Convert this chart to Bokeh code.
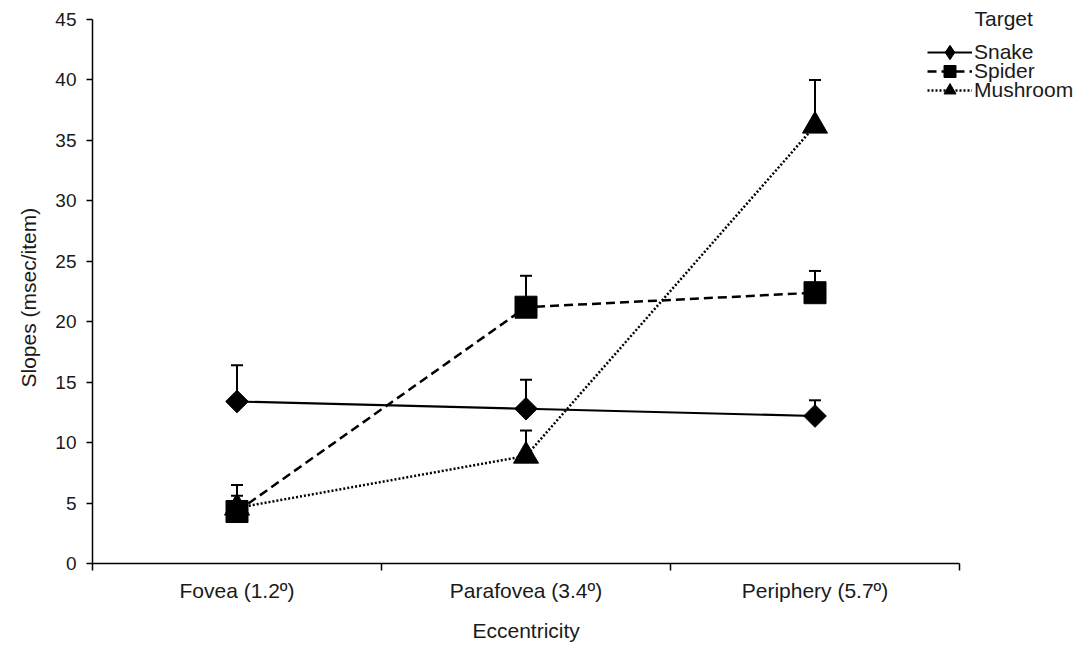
import math
from bokeh.plotting import figure
from bokeh.models import (Range1d, FixedTicker, Whisker, TeeHead, ColumnDataSource,
                          Legend, LegendItem, Label, Title)
from bokeh.embed import file_html
from bokeh.resources import INLINE

categories = ["Fovea (1.2º)", "Parafovea (3.4º)", "Periphery (5.7º)"]
snake = [13.4, 12.8, 12.2]
snake_err = [16.4, 15.2, 13.5]
spider = [4.3, 21.2, 22.4]
spider_err = [6.5, 23.8, 24.2]
mushroom = [4.6, 8.9, 36.2]
mushroom_err = [5.6, 11.0, 40.0]
y_ticks = [0, 5, 10, 15, 20, 25, 30, 35, 40, 45]
y_max = 45

FONT = "Liberation Sans"
TXT = "#1a1a1a"
n = len(categories)
xs = [i + 0.5 for i in range(n)]

W, H = 1077, 651
FRAME_L, AXIS_R = 92, 959          # x pixel of axis start / end
AXIS_TOP, FRAME_B = 19, 563        # y pixel of y_max / zero
x_end = n * (W - FRAME_L) / (AXIS_R - FRAME_L)
y_end = y_max * FRAME_B / (FRAME_B - AXIS_TOP)

p = figure(frame_width=W - FRAME_L, frame_height=FRAME_B, output_backend="svg",
           toolbar_location=None,
           x_range=Range1d(0, x_end), y_range=Range1d(0, y_end),
           min_border_left=FRAME_L, min_border_right=0, min_border_top=0,
           min_border_bottom=H - FRAME_B)
p.outline_line_color = None
p.xgrid.grid_line_color = None
p.ygrid.grid_line_color = None

# axes
p.xaxis.bounds = (0, n)
p.xaxis.ticker = FixedTicker(ticks=xs, minor_ticks=list(range(n + 1)))
p.xaxis.major_label_overrides = {x: c for x, c in zip(xs, categories)}
p.xaxis.major_tick_line_color = None
p.xaxis.minor_tick_out = 7
p.xaxis.minor_tick_in = 0
p.xaxis.minor_tick_line_width = 1.5
p.xaxis.major_label_standoff = 8
p.xaxis.major_label_text_font_size = "21px"
p.yaxis.bounds = (0, y_max)
p.yaxis.ticker = FixedTicker(ticks=y_ticks)
p.yaxis.minor_tick_line_color = None
p.yaxis.major_tick_out = 6
p.yaxis.major_tick_in = 0
p.yaxis.major_tick_line_width = 1.5
p.yaxis.major_label_standoff = 10
p.yaxis.major_label_text_font_size = "19px"
for ax in (p.xaxis, p.yaxis):
    ax.axis_line_width = 1.5
    ax.axis_line_color = "black"
    ax.major_label_text_font = FONT
    ax.major_label_text_color = TXT

# axis titles (positioned relative to the axis extent, not the whole frame)
p.add_layout(Title(text="Eccentricity", align="left", offset=380, standoff=24,
                   text_font=FONT, text_font_size="21px", text_font_style="normal",
                   text_color=TXT), "below")
p.add_layout(Title(text="Slopes (msec/item)", align="left", offset=176, standoff=25,
                   text_font=FONT, text_font_size="21px", text_font_style="normal",
                   text_color=TXT), "left")

series = [
    ("Snake", snake, snake_err, dict(line_dash="solid", line_width=2.2),
     dict(marker="square", size=16, angle=math.pi / 4), "diamond"),
    ("Spider", spider, spider_err, dict(line_dash="9 5", line_width=2.5),
     dict(marker="square", size=22), None),
    ("Mushroom", mushroom, mushroom_err, dict(line_dash="2 2", line_width=2.5),
     dict(marker="triangle", size=25), None),
]

for name, vals, errs, lstyle, mstyle, _ in series:
    src = ColumnDataSource(dict(x=xs, y=vals, up=errs))
    p.add_layout(Whisker(source=src, base="x", upper="up", lower="y", dimension="height",
                         line_width=2, line_color="black",
                         upper_head=TeeHead(size=12, line_width=2, line_color="black"),
                         lower_head=None))

legend_centers = [52, 71, 90]   # screen y of legend rows
for (name, vals, errs, lstyle, mstyle, proxy), cy in zip(series, legend_centers):
    src = ColumnDataSource(dict(x=xs, y=vals))
    ln = p.line("x", "y", source=src, line_color="black", **lstyle)
    sc = p.scatter("x", "y", source=src, fill_color="black", line_color="black", **mstyle)
    rends = [ln, sc]
    gh = 30
    if proxy:
        psrc = ColumnDataSource(dict(x=[float("nan")], y=[float("nan")]))
        rends = [ln, p.scatter("x", "y", source=psrc, marker=proxy, fill_color="black",
                               line_color="black", size=10)]
        gh = 36
    leg = Legend(items=[LegendItem(label=name, renderers=rends)],
                 location=(927 - FRAME_L, FRAME_B - (cy + gh / 2)),
                 padding=0, margin=0, spacing=0,
                 glyph_width=45, glyph_height=gh, label_height=19, label_standoff=2,
                 label_text_font=FONT, label_text_font_size="21px", label_text_color=TXT,
                 label_text_baseline="middle",
                 background_fill_alpha=0, border_line_color=None)
    p.add_layout(leg, "center")

p.add_layout(Label(x=974 - FRAME_L, y=FRAME_B - 18, x_units="screen", y_units="screen",
                   text="Target", text_font=FONT, text_font_size="21px", text_color=TXT,
                   text_baseline="middle"))

open("out.html", "w").write(file_html(p, INLINE))
